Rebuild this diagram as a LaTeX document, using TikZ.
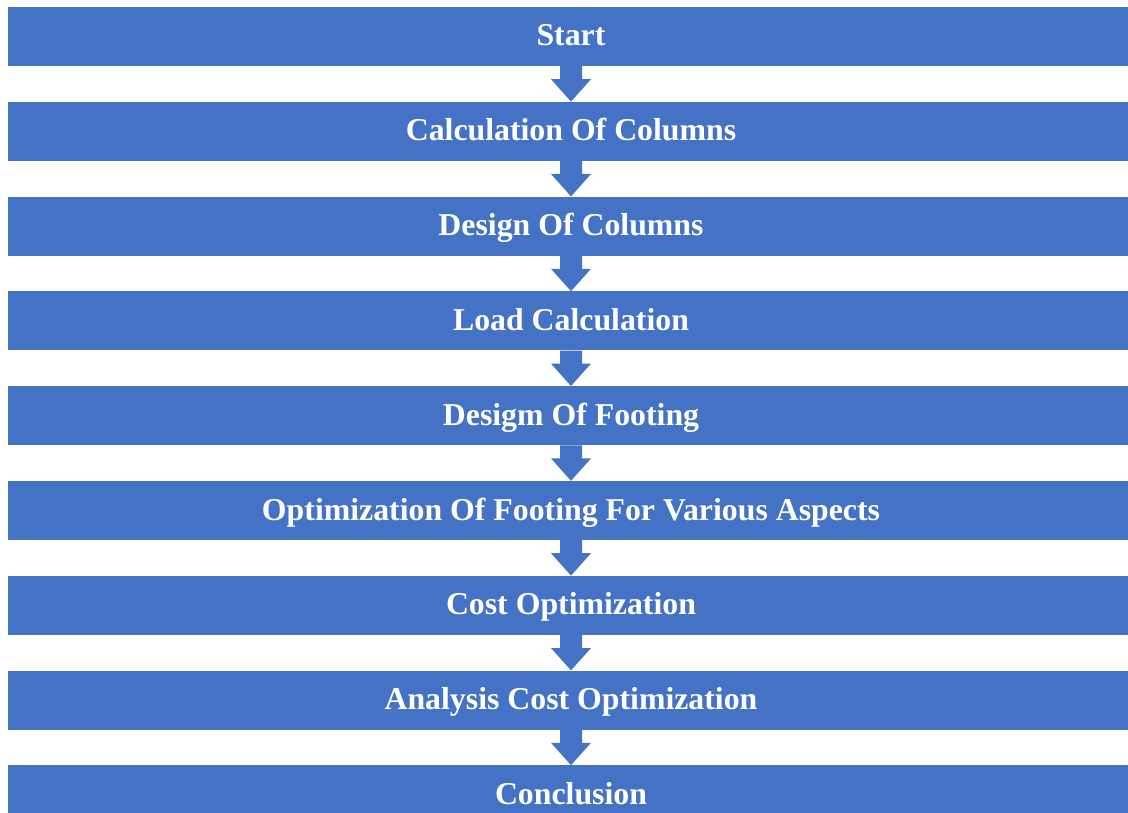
\documentclass[tikz,border=0pt]{standalone}
\usepackage{fontspec}
\setmainfont{Liberation Serif}
\usepackage{tikz}
\usetikzlibrary{positioning}
\definecolor{boxblue}{HTML}{4472C4}

% block arrow from the bottom of one step to the top of the next
\newcommand{\nextstep}[2]{%
  \fill[boxblue] ([xshift=-11pt]#1.south) -- ([xshift=-11pt,yshift=-13pt]#1.south)
  -- ([xshift=-20pt,yshift=-13pt]#1.south) -- (#2.north)
  -- ([xshift=20pt,yshift=-13pt]#1.south) -- ([xshift=11pt,yshift=-13pt]#1.south)
  -- ([xshift=11pt]#1.south) -- cycle;}

\begin{document}
\begin{tikzpicture}[x=1pt,y=-1pt]
      \tikzstyle{stepbox} = [rectangle, fill=boxblue, text=white, inner
      sep=0pt, minimum width=1126pt, minimum height=59pt, text
      height=22pt, text depth=3pt,
      font=\fontsize{31.8}{38}\selectfont\bfseries]
      \tikzstyle{every node} = [node distance=35.4pt]
      \useasboundingbox (0,0) rectangle (1128,813);
      % STEPS
      \node[stepbox] (start) at (571,36.5) {Start};
      \node[stepbox, below=of start] (calc) {Calculation Of Columns};
      \node[stepbox, below=of calc] (design) {Design Of Columns};
      \node[stepbox, below=of design] (load) {Load Calculation};
      \node[stepbox, below=of load] (footing) {Desigm Of Footing};
      \node[stepbox, below=of footing] (optim) {Optimization Of Footing For Various Aspects};
      \node[stepbox, below=of optim] (cost) {Cost Optimization};
      \node[stepbox, below=of cost] (analysis) {Analysis Cost Optimization};
      \node[stepbox, below=of analysis] (concl) {Conclusion};
      % ARROWS
      \nextstep{start}{calc} \nextstep{calc}{design}
      \nextstep{design}{load} \nextstep{load}{footing}
      \nextstep{footing}{optim} \nextstep{optim}{cost}
      \nextstep{cost}{analysis} \nextstep{analysis}{concl}
    \end{tikzpicture}
\end{document}
